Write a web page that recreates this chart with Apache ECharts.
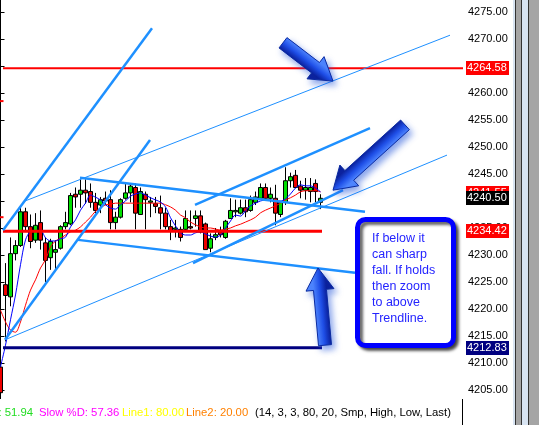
<!DOCTYPE html>
<html><head><meta charset="utf-8">
<script src="https://cdn.jsdelivr.net/npm/echarts@6/dist/echarts.min.js"></script>
<style>html,body{margin:0;padding:0;background:#fff;overflow:hidden}#c{width:539px;height:425px}</style>
</head><body><div id="c"></div>
<script>
// ---------- DATA ----------
const opens  = [4209.25,4224.5,4222.25,4230.25,4231.75,4238,4235.25,4232.75,4236,4232.25,4229.5,4230.5,4231.25,4235.25,4235.75,4241.25,4241.25,4242,4241.75,4239.75,4239.25,4240.5,4240.25,4236,4237,4240.5,4241.5,4242.5,4237.5,4241.25,4239.75,4239.5,4238.75,4237.75,4235.25,4234.75,4234.75,4234.75,4235.25,4236.75,4237.25,4235.75,4231.25,4233.25,4234.25,4233.25,4236.75,4238,4237.75,4238.75,4238.25,4239.75,4240.5,4242.5,4240.5,4240.5,4237.5,4239.75,4243.75,4244.75,4242.75,4242,4241.75,4243.25,4239.75];
const closes = [4204.5,4222.5,4230.25,4231.75,4238,4235.25,4232.5,4235.5,4232.75,4229,4232.5,4231,4235.25,4236,4241,4240.75,4242,4241.5,4239.75,4238.25,4240.25,4240,4236,4237,4240.25,4241.5,4242.75,4237.75,4241.75,4240.25,4240,4239,4237.75,4235.25,4234.5,4235,4233.25,4236.75,4235,4237.25,4234.25,4231,4233,4233.75,4233.75,4236.25,4238.25,4238.25,4238.75,4238,4240.25,4240.75,4242.5,4240.5,4241.25,4237.75,4239.75,4243.75,4244.5,4242.5,4242,4242.5,4242.5,4241.75,4240.5];
const lows   = [4203.75,4214,4220.5,4229,4231.5,4234.25,4231.25,4232.25,4231,4225,4227.25,4227.25,4231,4234.75,4235.5,4238.75,4238.75,4239.5,4238.75,4237.75,4237.75,4239.25,4234.75,4234.75,4236.75,4240.25,4239.75,4234.75,4237.5,4234.75,4237,4237.75,4234.75,4234.75,4232.75,4233.25,4232.5,4234.25,4234.75,4235.25,4234,4231,4230.5,4232.75,4233.25,4233,4236.75,4237,4237.5,4237,4238,4239.25,4240.25,4240.25,4239.75,4235.5,4237,4239.25,4242.5,4242.5,4240.5,4240.25,4239.75,4239.75,4238.5];
const highs  = [4211.75,4228.5,4233.25,4232.75,4238.75,4238.75,4237.5,4237.75,4238.25,4233.25,4233,4232.75,4235.5,4238,4241.5,4242.5,4244,4244,4243.25,4241.5,4240.75,4241.75,4242,4238,4240.5,4243.5,4243.25,4243.25,4242.5,4241.75,4240.75,4240.75,4241,4238.75,4236.5,4236.5,4235.25,4238.25,4238.25,4238.25,4238.25,4236,4234,4235,4235.25,4236.5,4240.5,4240.25,4240.25,4240.25,4241,4241.75,4243.25,4243.25,4242.5,4243,4240,4246.25,4245.25,4245.75,4243.75,4244.25,4244.25,4244,4241.25];
const maFast = [4209.3,4213.3,4218.0,4222.6,4228.2,4232.8,4234.3,4234.4,4234.6,4233.2,4232.6,4232.6,4233.0,4233.3,4235.2,4236.5,4238.3,4239.6,4241.1,4240.7,4240.2,4239.3,4238.7,4238.5,4239.3,4240.0,4240.9,4241.3,4241.5,4241.1,4240.6,4240.2,4239.8,4238.9,4236.9,4235.4,4234.1,4233.7,4233.7,4234.1,4234.3,4233.9,4233.5,4233.3,4233.7,4235.0,4236.3,4237.4,4237.2,4238.2,4239.1,4239.6,4240.0,4240.2,4240.2,4240.0,4240.0,4240.4,4241.3,4242.4,4243.0,4242.8,4242.8,4242.4,4241.7];
const maSlow = [4219.8,4217.6,4216.1,4215.7,4217.6,4220.7,4223.5,4225.4,4227.6,4229.1,4231.5,4232.6,4233.1,4233.7,4234.3,4234.6,4235.2,4236.1,4237.0,4238.1,4238.7,4239.3,4239.4,4239.6,4239.6,4239.6,4239.6,4239.6,4239.6,4239.6,4239.6,4239.6,4239.6,4239.3,4238.9,4238.3,4237.4,4236.9,4236.1,4235.6,4235.2,4235.0,4235.0,4234.8,4234.6,4234.8,4235.0,4235.4,4235.7,4236.1,4236.5,4237.0,4237.8,4238.3,4238.7,4239.1,4239.6,4240.2,4240.6,4241.1,4241.7,4241.9,4241.9,4241.9,4241.7];
const barRange = [-0.1, 92.5];        // visible span of bar indices
const priceRange = [4200, 4277.22];   // visible price span
const yTickValues = [4205,4210,4215,4220,4225,4230,4235,4240,4245,4250,4255,4260,4265,4270,4275];
// horizontal levels: [price, fromBar, toBar]
const levelTop   = [4264.58, 0.5, 92.5];
const levelMid   = [4234.42, 0.5, 64.3];
const levelLow   = [4212.83, 0.5, 64.3];
// price-scale markers
const markerPrices = [4264.58, 4241.55, 4240.50, 4234.42, 4212.83];
const stubPrices = [4258.5, 4237.0];
// trendlines as [bar index, price] end points
const trendSteepA = [[0.5, 4234.6], [30.3, 4272.0]];
const trendSteepB = [[0.9, 4214.3], [29.9, 4251.3]];
const trendThinUp = [[4.9, 4240.0], [89.9, 4270.7]];
const trendThinLo = [[0.9, 4214.3], [89.3, 4248.5]];
const chanDownTop = [[15.9, 4244.3], [72.9, 4238.0]];
const chanDownBot = [[15.5, 4232.8], [70.9, 4226.7]];
const chanUpTop   = [[38.9, 4239.3], [73.9, 4253.5]];
const chanUpBot   = [[38.5, 4228.5], [68.5, 4242.0]];
// arrows: [tail, tip] as [bar index, price]
const arrowA = [[56.5, 4269.3], [66.5, 4262.2]];
const arrowB = [[80.9, 4254.1], [66.5, 4242.0]];
const arrowC = [[64.9, 4213.3], [63.5, 4227.6]];
const noteLines = ['If below it', 'can sharp', 'fall. If holds', 'then zoom', 'to above', 'Trendline.'];
const stochK = '51.94', stochD = '57.36', line1 = '80.00', line2 = '20.00';
const stochParams = '(14, 3, 3, 80, 20, Smp, High, Low, Last)';

// ---------- CHART ----------
const candles = opens.map((o, i) => [i, o, closes[i], lows[i], highs[i]]);
const fastPts = maFast.map((v, i) => [i, v]);
const slowPts = maSlow.map((v, i) => [i, v]);
const FONT = 'Liberation Sans';
const BLUE = '#1e90ff';

function tl(pts, w) {
  return {type: 'line', data: pts, symbol: 'none', silent: true, lineStyle: {color: BLUE, width: w}, z: 5};
}
function hl(lv, color, w) {
  return {type: 'line', data: [[lv[1], lv[0]], [lv[2], lv[0]]], symbol: 'none', silent: true, lineStyle: {color: color, width: w}, z: 4};
}
const markerColors = ['#ff0000', '#ff0000', '#000000', '#ff0000', '#000080'];

const chart = echarts.init(document.getElementById('c'));
chart.setOption({
  animation: false,
  backgroundColor: '#ffffff',
  grid: {left: 0, right: 76, top: 0, bottom: 8, containLabel: false},
  xAxis: {type: 'value', min: barRange[0], max: barRange[1], show: false},
  yAxis: {
    type: 'value', position: 'right', min: priceRange[0], max: priceRange[1], interval: 5,
    splitLine: {show: false},
    axisLine: {show: true, lineStyle: {color: '#000', width: 1}},
    axisTick: {show: true, length: 4, lineStyle: {color: '#000'}},
    axisLabel: {margin: 5, color: '#000', fontFamily: FONT, fontSize: 11, showMaxLabel: false,
      formatter: v => yTickValues.indexOf(Math.round(v * 100) / 100) >= 0 ? v.toFixed(2) : ''}
  },
  series: [
    {type: 'candlestick', data: candles, barWidth: 4, z: 2, silent: true,
      encode: {x: 0, y: [1, 2, 3, 4]},
      itemStyle: {color: '#00e000', color0: '#ee0000', borderColor: '#000', borderColor0: '#000', borderWidth: 1}},
    {type: 'line', data: slowPts, symbol: 'none', smooth: 0.3, lineStyle: {color: '#ff0000', width: 1}, z: 3, silent: true},
    {type: 'line', data: fastPts, symbol: 'none', smooth: 0.3, lineStyle: {color: '#0000ff', width: 1}, z: 3, silent: true},
    hl(levelTop, '#ff0000', 2),
    hl(levelMid, '#ff0000', 3),
    hl(levelLow, '#000080', 3),
    hl([stubPrices[0], -0.1, 0.6], '#ff0000', 2),
    hl([stubPrices[1], -0.1, 0.6], '#ff0000', 2),
    tl(trendSteepA, 2.5), tl(trendSteepB, 2.5), tl(trendThinUp, 1), tl(trendThinLo, 1),
    tl(chanDownTop, 2.5), tl(chanDownBot, 2.5), tl(chanUpTop, 2.5), tl(chanUpBot, 2.5)
  ]
});

// ---------- annotations ----------
const px = p => chart.convertToPixel({xAxisIndex: 0, yAxisIndex: 0}, p);
function arrowShape(a) {
  const t = px(a[0]), h = px(a[1]);
  const dx = h[0] - t[0], dy = h[1] - t[1], L = Math.hypot(dx, dy);
  const ux = dx / L, uy = dy / L, nx = -uy, ny = ux;
  const sw = 6.5, hw = 14, hlen = 22;
  const P = (s, n) => [t[0] + ux * s + nx * n, t[1] + uy * s + ny * n];
  const pts = [P(0, -sw), P(L - hlen, -sw), P(L - hlen, -hw), P(L, 0), P(L - hlen, hw), P(L - hlen, sw), P(0, sw)];
  const g1 = P(0, -sw), g2 = P(0, sw);
  return [{
    type: 'polygon', z: 60, shape: {points: pts},
    style: {
      fill: new echarts.graphic.LinearGradient(g1[0], g1[1], g2[0], g2[1], [
        {offset: 0, color: '#4f86ff'}, {offset: 0.5, color: '#1f4fe8'}, {offset: 1, color: '#0a1f9a'}], true),
      stroke: '#0a2aa0', lineWidth: 1,
      shadowBlur: 6, shadowColor: 'rgba(40,90,220,0.55)', shadowOffsetX: 3, shadowOffsetY: 4
    }
  }];
}

const graphics = [];
graphics.push(...arrowShape(arrowA), ...arrowShape(arrowB), ...arrowShape(arrowC));
// note box
graphics.push({type: 'rect', z: 70, shape: {x: 357.5, y: 219.5, width: 96, height: 126, r: 8},
  style: {fill: '#fff', stroke: '#0000ff', lineWidth: 5, shadowBlur: 3, shadowOffsetX: 3, shadowOffsetY: 3, shadowColor: 'rgba(0,0,0,0.6)'}});
noteLines.forEach((s, i) => graphics.push({type: 'text', z: 71, x: 372, y: 239 + i * 16,
  style: {text: s, fill: '#2424ff', font: '12.5px "Liberation Sans"', textVerticalAlign: 'middle'}}));
// bottom indicator strip
graphics.push({type: 'rect', z: 80, shape: {x: 0, y: 399, width: 513, height: 26}, style: {fill: '#fff'}});
graphics.push({type: 'line', z: 81, shape: {x1: 462.5, y1: 399, x2: 462.5, y2: 425}, style: {stroke: '#000', lineWidth: 1}});
const bf = '11.3px "Liberation Sans"';
graphics.push({type: 'text', z: 82, x: 33, y: 413, style: {text: '%K: ' + stochK, fill: '#22dd22', font: bf, textAlign: 'right', textVerticalAlign: 'middle'}});
graphics.push({type: 'text', z: 82, x: 39, y: 413, style: {text: 'Slow %D: ' + stochD, fill: '#ff00ff', font: bf, textVerticalAlign: 'middle'}});
graphics.push({type: 'text', z: 82, x: 122, y: 413, style: {text: 'Line1: ' + line1, fill: '#ffff00', font: bf, textVerticalAlign: 'middle'}});
graphics.push({type: 'text', z: 82, x: 186, y: 413, style: {text: 'Line2: ' + line2, fill: '#ff8000', font: bf, textVerticalAlign: 'middle'}});
graphics.push({type: 'text', z: 82, x: 255, y: 413, style: {text: stochParams, fill: '#000', font: bf, textVerticalAlign: 'middle'}});
// price-scale markers
markerPrices.forEach((p, i) => {
  const y = Math.round(px([0, p])[1]);
  graphics.push({type: 'rect', z: 85 + i, shape: {x: 466, y: y - 7, width: 43, height: 14}, style: {fill: markerColors[i]}});
  graphics.push({type: 'text', z: 85 + i, x: 467, y: y, style: {text: p.toFixed(2), fill: '#fff', font: '11px "Liberation Sans"', textVerticalAlign: 'middle'}});
});
// right-side scroll/border strips
graphics.push({type: 'rect', z: 90, shape: {x: 513, y: 0, width: 26, height: 425}, style: {fill: '#d8e4f2'}});
graphics.push({type: 'rect', z: 91, shape: {x: 515.5, y: -2, width: 6, height: 430}, style: {fill: '#a5a5a5', stroke: '#333', lineWidth: 1}});
graphics.push({type: 'rect', z: 91, shape: {x: 528.5, y: -2, width: 14, height: 430}, style: {fill: '#a5a5a5', stroke: '#333', lineWidth: 1}});
chart.setOption({graphic: graphics});
</script></body></html>
